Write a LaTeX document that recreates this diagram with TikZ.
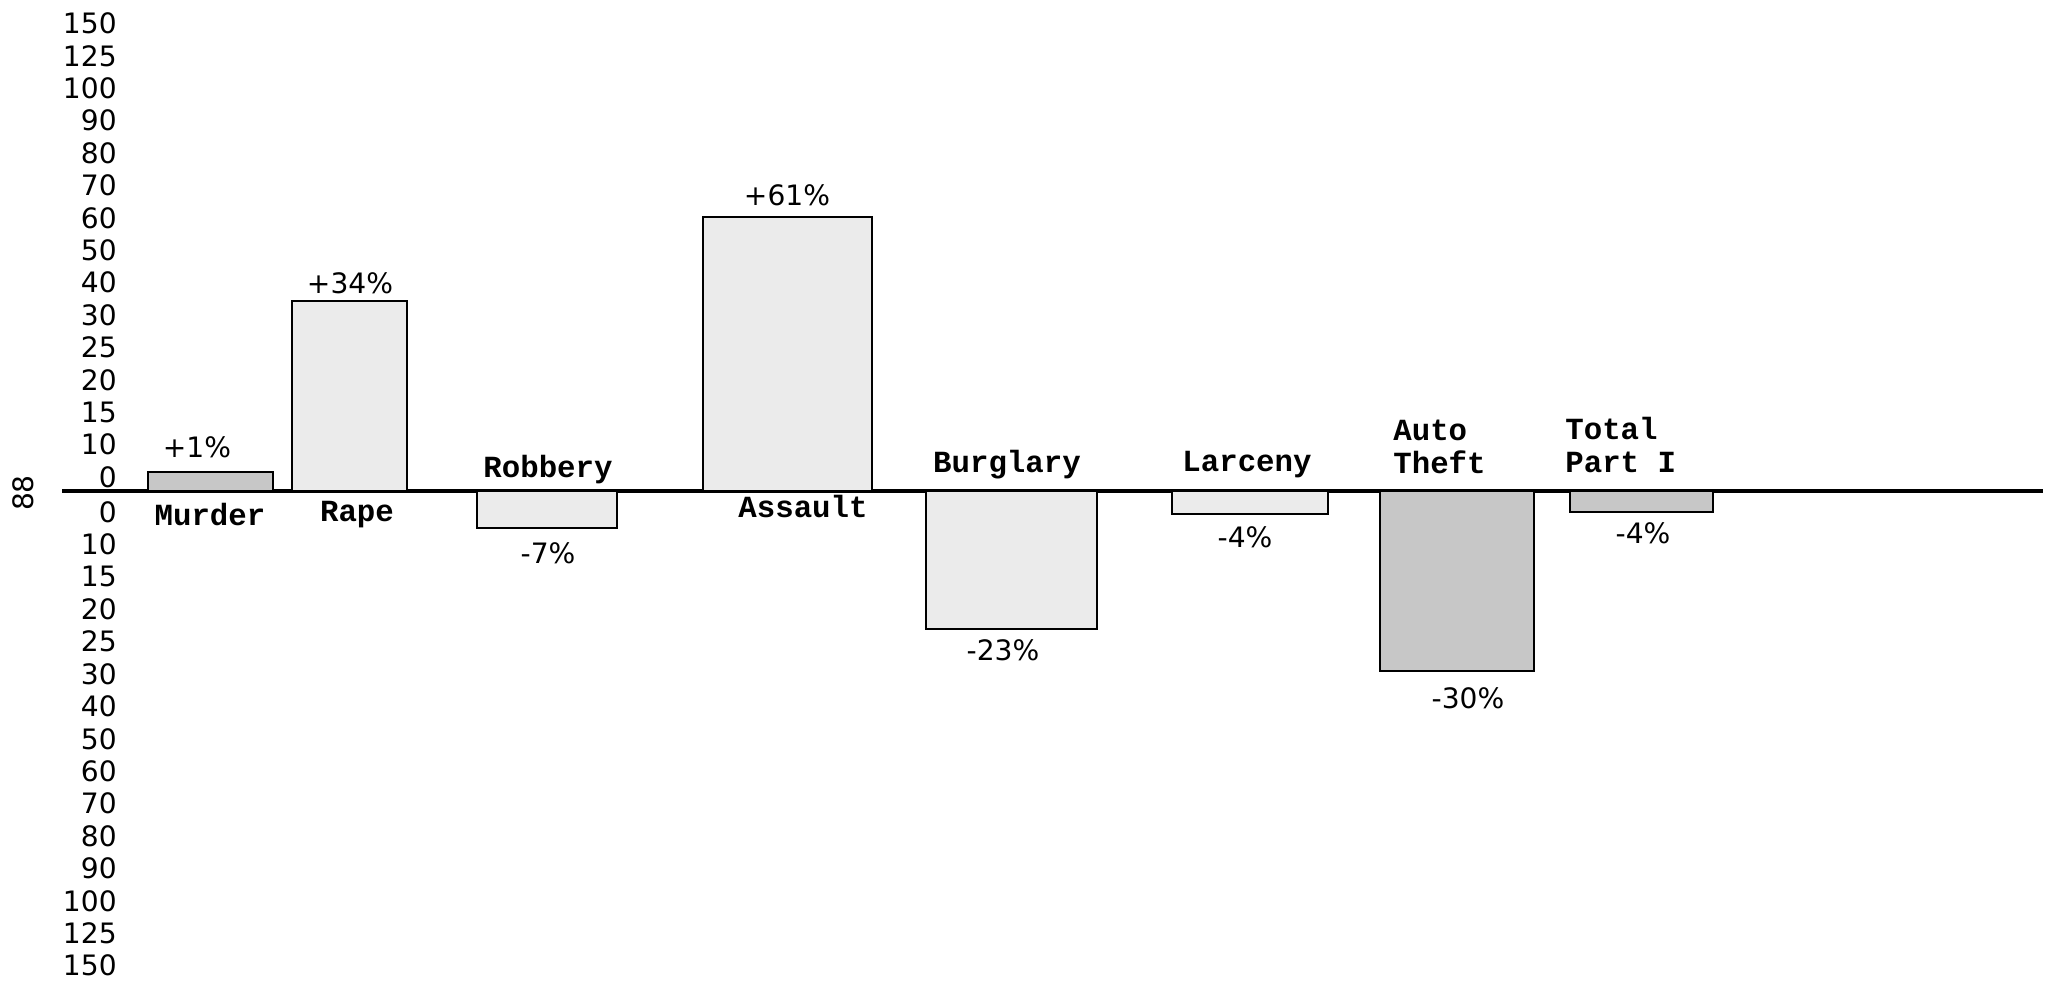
\documentclass[tikz,border=0pt]{standalone}
\usepackage{fontspec}
\newfontfamily\typefont{Liberation Mono}
\newfontfamily\letterfont{DejaVu Sans}
\tikzset{
  bar/.style = {draw=black, line width=0.4mm, fill=black!8},
  darkbar/.style = {bar, fill=black!22},
  crime/.style = {font=\typefont\bfseries\fontsize{17.5}{19}\selectfont, inner sep=0pt, align=left},
  pct/.style = {font=\letterfont\fontsize{16}{18}\selectfont, inner sep=0pt},
  tick/.style = {font=\letterfont\fontsize{16}{18}\selectfont, inner sep=0pt, anchor=east},
}

\begin{document}
\begin{tikzpicture}[x=0.02cm, y=-0.02cm]
  \useasboundingbox (0,0) rectangle (2049,987);
  % scale, both ways from zero
  \foreach \v [count=\i from 0] in {0,10,15,20,25,30,40,50,60,70,80,90,100,125,150} {
    \node [tick] (up\i) at (117,477-32.4*\i) {\v};
    \node [tick] (dn\i) at (117,512+32.4*\i) {\v};
  }
  \node [pct, rotate=90] (page) at (23,493) {88};
  \coordinate (axl) at (62,491);
  \coordinate (axr) at (2043,491);
  \draw [line width=0.7mm] (axl) -- (axr);
  % bars
  \draw [darkbar] (148,491) rectangle (273,472);
  \draw [bar] (292,491) rectangle (407,301);
  \draw [bar] (477,491) rectangle (617,528);
  \draw [bar] (703,491) rectangle (872,217);
  \draw [bar] (926,491) rectangle (1097,629);
  \draw [bar] (1172,491) rectangle (1328,514);
  \draw [darkbar] (1380,491) rectangle (1534,671);
  \draw [darkbar] (1570,491) rectangle (1713,512);
  % names and changes
  \node [pct] (murderpct) at (197,447) {+1\%};
  \node [crime] (murder) at (210,515) {Murder};
  \node [pct] (rapepct) at (350,283) {+34\%};
  \node [crime] (rape) at (357,515) {Rape};
  \node [crime] (robbery) at (548,470) {Robbery};
  \node [pct] (robberypct) at (548,553) {-7\%};
  \node [pct] (assaultpct) at (787,195) {+61\%};
  \node [crime] (assault) at (803,507) {Assault};
  \node [crime] (burglary) at (1007,465) {Burglary};
  \node [pct] (burglarypct) at (1003,650) {-23\%};
  \node [crime] (larceny) at (1247,465) {Larceny};
  \node [pct] (larcenypct) at (1245,537) {-4\%};
  \node [crime, anchor=west] (auto) at (1393,447) {Auto\\Theft};
  \node [pct] (autopct) at (1468,698) {-30\%};
  \node [crime, anchor=west] (total) at (1565,445) {Total\\Part I};
  \node [pct] (totalpct) at (1643,533) {-4\%};
\end{tikzpicture}
\end{document}
